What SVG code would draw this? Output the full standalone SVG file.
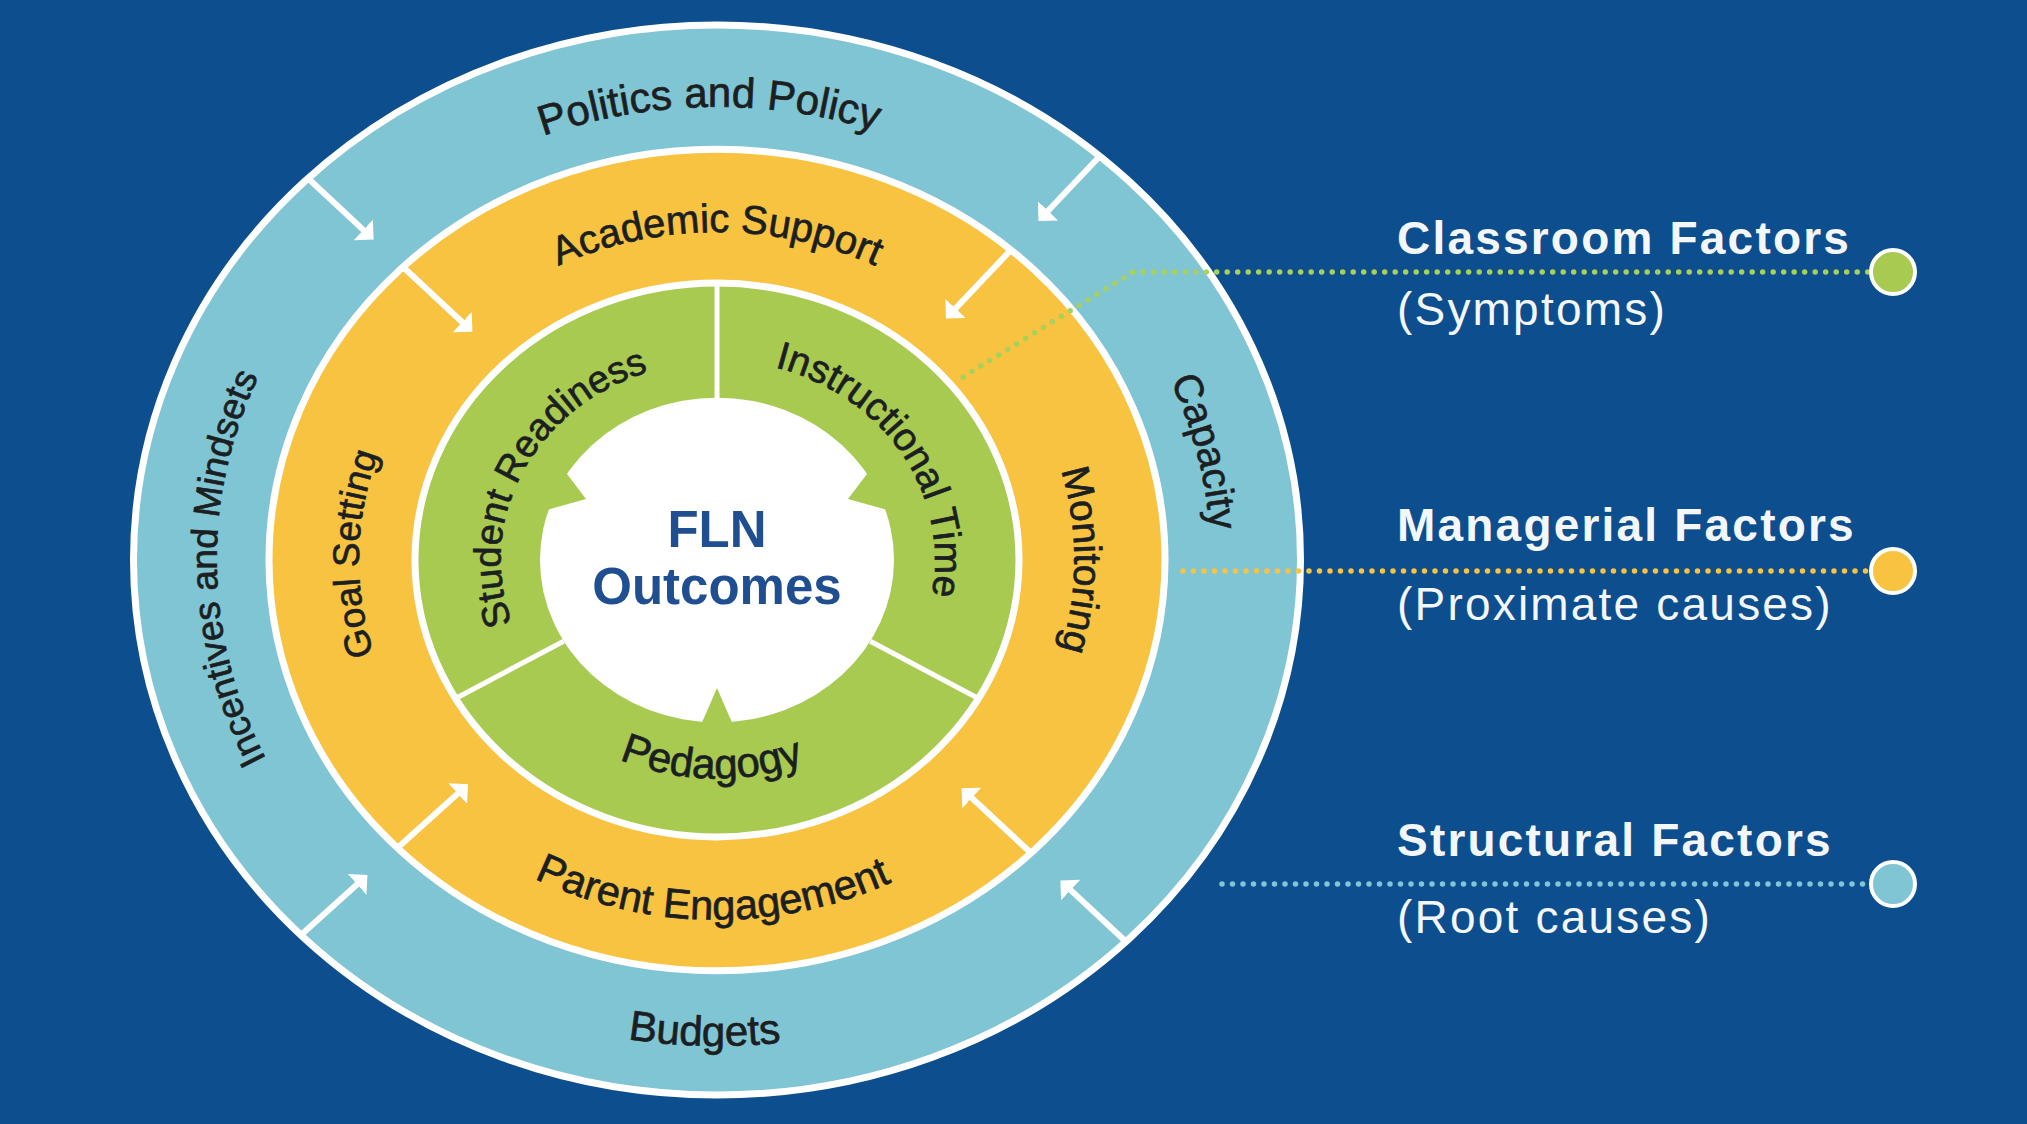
<svg xmlns="http://www.w3.org/2000/svg" width="2027" height="1124" viewBox="0 0 2027 1124">
<style>
.lbl{font-family:"Liberation Sans",Arial,sans-serif;fill:#1c1f22;stroke:#1c1f22;stroke-width:0.7}
.leg{font-family:"Liberation Sans",Arial,sans-serif;fill:#f4f7fa;font-size:46px;letter-spacing:2.2px}
.legb{font-weight:bold}
.arrow{stroke:#fff;stroke-width:6;fill:none;marker-end:url(#ah)}
.dot{fill:none;stroke-width:5.5;stroke-dasharray:0 10.5;stroke-linecap:round}
.sep{stroke:#fff;stroke-width:5}
.fln{font-family:"Liberation Sans",Arial,sans-serif;font-weight:bold;font-size:51px;fill:#1f4e91}
</style>
<defs>
<marker id="ah" viewBox="0 0 14 28" refX="1" refY="14" markerWidth="14" markerHeight="28" markerUnits="userSpaceOnUse" orient="auto"><path d="M0,0 L14,14 L0,28 z" fill="#fff"/></marker>
<path id="p-politics" d="M224.2,528.4 A494,453 0 0 1 1208.3,512.6"/>
<path id="p-capacity" d="M652.5,110.9 A494,453 0 0 1 865.6,992.0"/>
<path id="p-incentives" d="M682.1,1017.4 A500,458.5 0 0 1 664.7,104.0"/>
<path id="p-budgets" d="M188.0,589.7 A530,486 0 0 0 1243.6,615.0"/>
<path id="p-academic" d="M360.4,531.4 A358,328.3 0 0 1 1073.6,531.4"/>
<path id="p-monitoring" d="M748.2,233.0 A358,328.3 0 0 1 748.2,887.0"/>
<path id="p-goal" d="M679.6,886.5 A358,328.3 0 0 1 692.0,232.5"/>
<path id="p-parent" d="M326.1,587.0 A392,359.5 0 0 0 1107.1,595.7"/>
<path id="p-student" d="M615.6,734.9 A216,198.1 0 0 1 801.4,377.6"/>
<path id="p-instr" d="M621.4,380.3 A218,199.9 0 0 1 845.1,721.7"/>
<path id="p-pedagogy" d="M479.4,573.3 A238,218.2 0 0 0 953.5,584.7"/>
</defs>
<rect x="0" y="0" width="2027" height="1124" fill="#0d4e8e"/>

<g id="ring-structural">
<ellipse cx="717" cy="560" rx="583.5" ry="535" fill="#80c5d3" stroke="#fff" stroke-width="7"/>
<text class="lbl" font-size="42"><textPath href="#p-politics" startOffset="50%" text-anchor="middle">Politics and Policy</textPath></text>
<text class="lbl" font-size="40"><textPath href="#p-capacity" startOffset="50%" text-anchor="middle">Capacity</textPath></text>
<text class="lbl" font-size="42"><textPath href="#p-budgets" startOffset="50%" text-anchor="middle">Budgets</textPath></text>
<text class="lbl" font-size="37"><textPath href="#p-incentives" startOffset="50%" text-anchor="middle">Incentives and Mindsets</textPath></text>
</g>

<g id="ring-managerial">
<ellipse cx="717" cy="560" rx="448" ry="410.8" fill="#f7c340" stroke="#fff" stroke-width="7"/>
<text class="lbl" font-size="40"><textPath href="#p-academic" startOffset="50%" text-anchor="middle">Academic Support</textPath></text>
<text class="lbl" font-size="39"><textPath href="#p-monitoring" startOffset="50%" text-anchor="middle">Monitoring</textPath></text>
<text class="lbl" font-size="41.5"><textPath href="#p-parent" startOffset="50%" text-anchor="middle">Parent Engagement</textPath></text>
<text class="lbl" font-size="37"><textPath href="#p-goal" startOffset="50%" text-anchor="middle">Goal Setting</textPath></text>
</g>

<g id="ring-classroom">
<ellipse cx="717" cy="560" rx="302" ry="276.9" fill="#a8ca50" stroke="#fff" stroke-width="7"/>
<line class="sep" x1="717" y1="283" x2="717" y2="400"/>
<line class="sep" x1="455.5" y1="698.5" x2="563.7" y2="641.2"/>
<line class="sep" x1="978.5" y1="698.5" x2="870.3" y2="641.2"/>
<text class="lbl" font-size="38"><textPath href="#p-student" startOffset="50%" text-anchor="middle">Student Readiness</textPath></text>
<text class="lbl" font-size="39"><textPath href="#p-instr" startOffset="50%" text-anchor="middle">Instructional Time</textPath></text>
<text class="lbl" font-size="42"><textPath href="#p-pedagogy" startOffset="50%" text-anchor="middle">Pedagogy</textPath></text>
</g>

<g id="center-fln">
<ellipse cx="717" cy="560" rx="177" ry="162.3" fill="#fff"/>
<polygon points="543,511 564,470 586,499" fill="#a8ca50"/>
<polygon points="891,511 870,470 848,499" fill="#a8ca50"/>
<polygon points="697,734 717,688 737,734" fill="#a8ca50"/>
<text class="fln" x="717" y="547" text-anchor="middle">FLN</text>
<text class="fln" x="717" y="604" text-anchor="middle">Outcomes</text>
</g>

<g id="connectors">
<line class="arrow" x1="307.7" y1="178.0" x2="364.1" y2="230.6"/>
<line class="arrow" x1="403.0" y1="267.0" x2="462.9" y2="322.8"/>
<line class="arrow" x1="1100.2" y1="155.8" x2="1047.4" y2="211.5"/>
<line class="arrow" x1="1010.9" y1="250.0" x2="954.9" y2="309.1"/>
<line class="arrow" x1="1126.3" y1="942.0" x2="1069.9" y2="889.4"/>
<line class="arrow" x1="1031.0" y1="853.0" x2="971.1" y2="797.2"/>
<line class="arrow" x1="300.4" y1="935.4" x2="357.8" y2="883.7"/>
<line class="arrow" x1="397.4" y1="847.9" x2="458.4" y2="792.9"/>
<path class="dot" d="M963,377 L1133,272 L1868,272" stroke="#a9d05a"/>
<path class="dot" d="M1183,571 L1868,571" stroke="#f7c340"/>
<path class="dot" d="M1222,884 L1868,884" stroke="#80c5d8"/>
</g>

<g id="legend-classroom">
<circle cx="1893" cy="272" r="22" fill="#a8ca50" stroke="#fff" stroke-width="4"/>
<text class="leg legb" x="1397" y="254">Classroom Factors</text>
<text class="leg" x="1397" y="325">(Symptoms)</text>
</g>
<g id="legend-managerial">
<circle cx="1893" cy="571" r="22" fill="#f7c340" stroke="#fff" stroke-width="4"/>
<text class="leg legb" x="1397" y="541">Managerial Factors</text>
<text class="leg" x="1397" y="620">(Proximate causes)</text>
</g>
<g id="legend-structural">
<circle cx="1893" cy="884" r="22" fill="#80c5d3" stroke="#fff" stroke-width="4"/>
<text class="leg legb" x="1397" y="856">Structural Factors</text>
<text class="leg" x="1397" y="933">(Root causes)</text>
</g>
</svg>
